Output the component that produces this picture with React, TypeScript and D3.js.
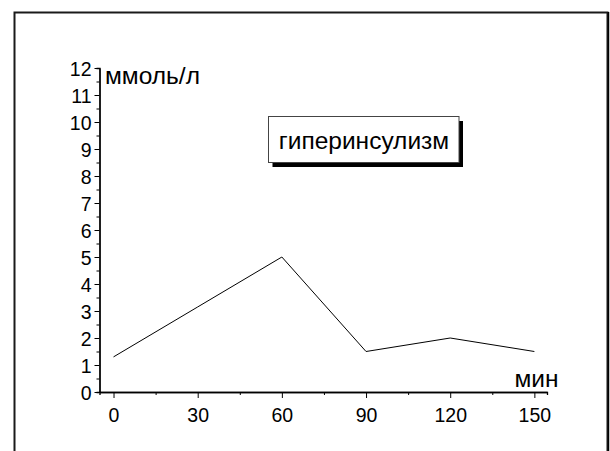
import React from 'react';
import * as d3 from 'd3';

// data
const minutes = [0, 30, 60, 90, 120, 150];
const glucose = [1.3, 3.15, 5, 1.5, 2, 1.5];
const xTicks = [0, 30, 60, 90, 120, 150];
const xMinorTicks = [15, 45, 75, 105, 135];
const yTicks = [0, 1, 2, 3, 4, 5, 6, 7, 8, 9, 10, 11, 12];
const yMinorTicks = [0.5, 1.5, 2.5, 3.5, 4.5, 5.5, 6.5, 7.5, 8.5, 9.5, 10.5, 11.5];
const yUnit = 'ммоль/л';
const xUnit = 'мин';
const legendText = 'гиперинсулизм';

const width = 610;
const height = 451;
const font = '"Liberation Sans", Arial, sans-serif';

const App: React.FC = () => {
  const svgRef = React.useRef<SVGSVGElement>(null);

  React.useEffect(() => {
    if (!svgRef.current) return;
    d3.select(svgRef.current).selectAll('*').remove();
    const svg = d3.select(svgRef.current);

    // frame
    svg.append('rect')
      .attr('x', 14.5)
      .attr('y', 12.5)
      .attr('width', 593)
      .attr('height', 470)
      .attr('fill', 'none')
      .attr('stroke', '#1a1a1a')
      .attr('stroke-width', 2);
    svg.append('line')
      .attr('x1', 608.5).attr('x2', 608.5)
      .attr('y1', 12).attr('y2', height)
      .attr('stroke', '#000')
      .attr('stroke-width', 1.5);

    const x = d3.scaleLinear().domain([-5, 154.5]).range([99.5, 547]);
    const y = d3.scaleLinear().domain([0, 12]).range([392, 68]);

    // x axis
    const gx = svg.append('g').attr('transform', `translate(0,${y(0)})`);
    gx.call(
      d3.axisBottom(x).tickValues(xMinorTicks).tickSize(3).tickFormat(() => '')
    );
    gx.append('g').call(
      d3.axisBottom(x).tickValues(xTicks).tickSize(6).tickPadding(10).tickSizeOuter(0)
    );
    gx.selectAll('.domain').attr('stroke-width', 1.3);
    gx.selectAll('text')
      .attr('font-family', font)
      .attr('font-size', 19.5)
      .attr('fill', '#000');

    // y axis
    const gy = svg.append('g').attr('transform', `translate(${x(-5)},0)`);
    gy.call(
      d3.axisLeft(y).tickValues(yMinorTicks).tickSize(3).tickFormat(() => '')
    );
    gy.append('g').call(
      d3.axisLeft(y).tickValues(yTicks).tickSize(5).tickPadding(3).tickSizeOuter(0)
    );
    gy.selectAll('.domain').attr('stroke-width', 1.3);
    gy.selectAll('text')
      .attr('font-family', font)
      .attr('font-size', 19.5)
      .attr('dy', '0.38em')
      .attr('fill', '#000');

    // units
    svg.append('text')
      .attr('x', 105)
      .attr('y', 83.5)
      .attr('font-family', font)
      .attr('font-size', 24.5)
      .text(yUnit);
    svg.append('text')
      .attr('x', 558.5)
      .attr('y', 386.7)
      .attr('text-anchor', 'end')
      .attr('font-family', font)
      .attr('font-size', 24.5)
      .text(xUnit);

    // curve
    const line = d3.line<number>()
      .x((d, i) => x(minutes[i]))
      .y(d => y(d));
    svg.append('path')
      .datum(glucose)
      .attr('d', line)
      .attr('fill', 'none')
      .attr('stroke', '#000')
      .attr('stroke-width', 1);

    // legend box with shadow
    const lg = svg.append('g');
    lg.append('rect')
      .attr('x', 272.5)
      .attr('y', 121)
      .attr('width', 190.5)
      .attr('height', 46)
      .attr('fill', '#000');
    lg.append('rect')
      .attr('x', 268.5)
      .attr('y', 116.5)
      .attr('width', 190.5)
      .attr('height', 46)
      .attr('fill', '#fff')
      .attr('stroke', '#444')
      .attr('stroke-width', 1);
    lg.append('text')
      .attr('x', 364)
      .attr('y', 149.3)
      .attr('text-anchor', 'middle')
      .attr('font-family', font)
      .attr('font-size', 24.5)
      .text(legendText);
  }, []);

  return (
    <svg
      ref={svgRef}
      width={width}
      height={height}
      viewBox={`0 0 ${width} ${height}`}
      style={{ position: 'absolute', left: 0, top: 0, background: '#fff' }}
    />
  );
};

export default App;
